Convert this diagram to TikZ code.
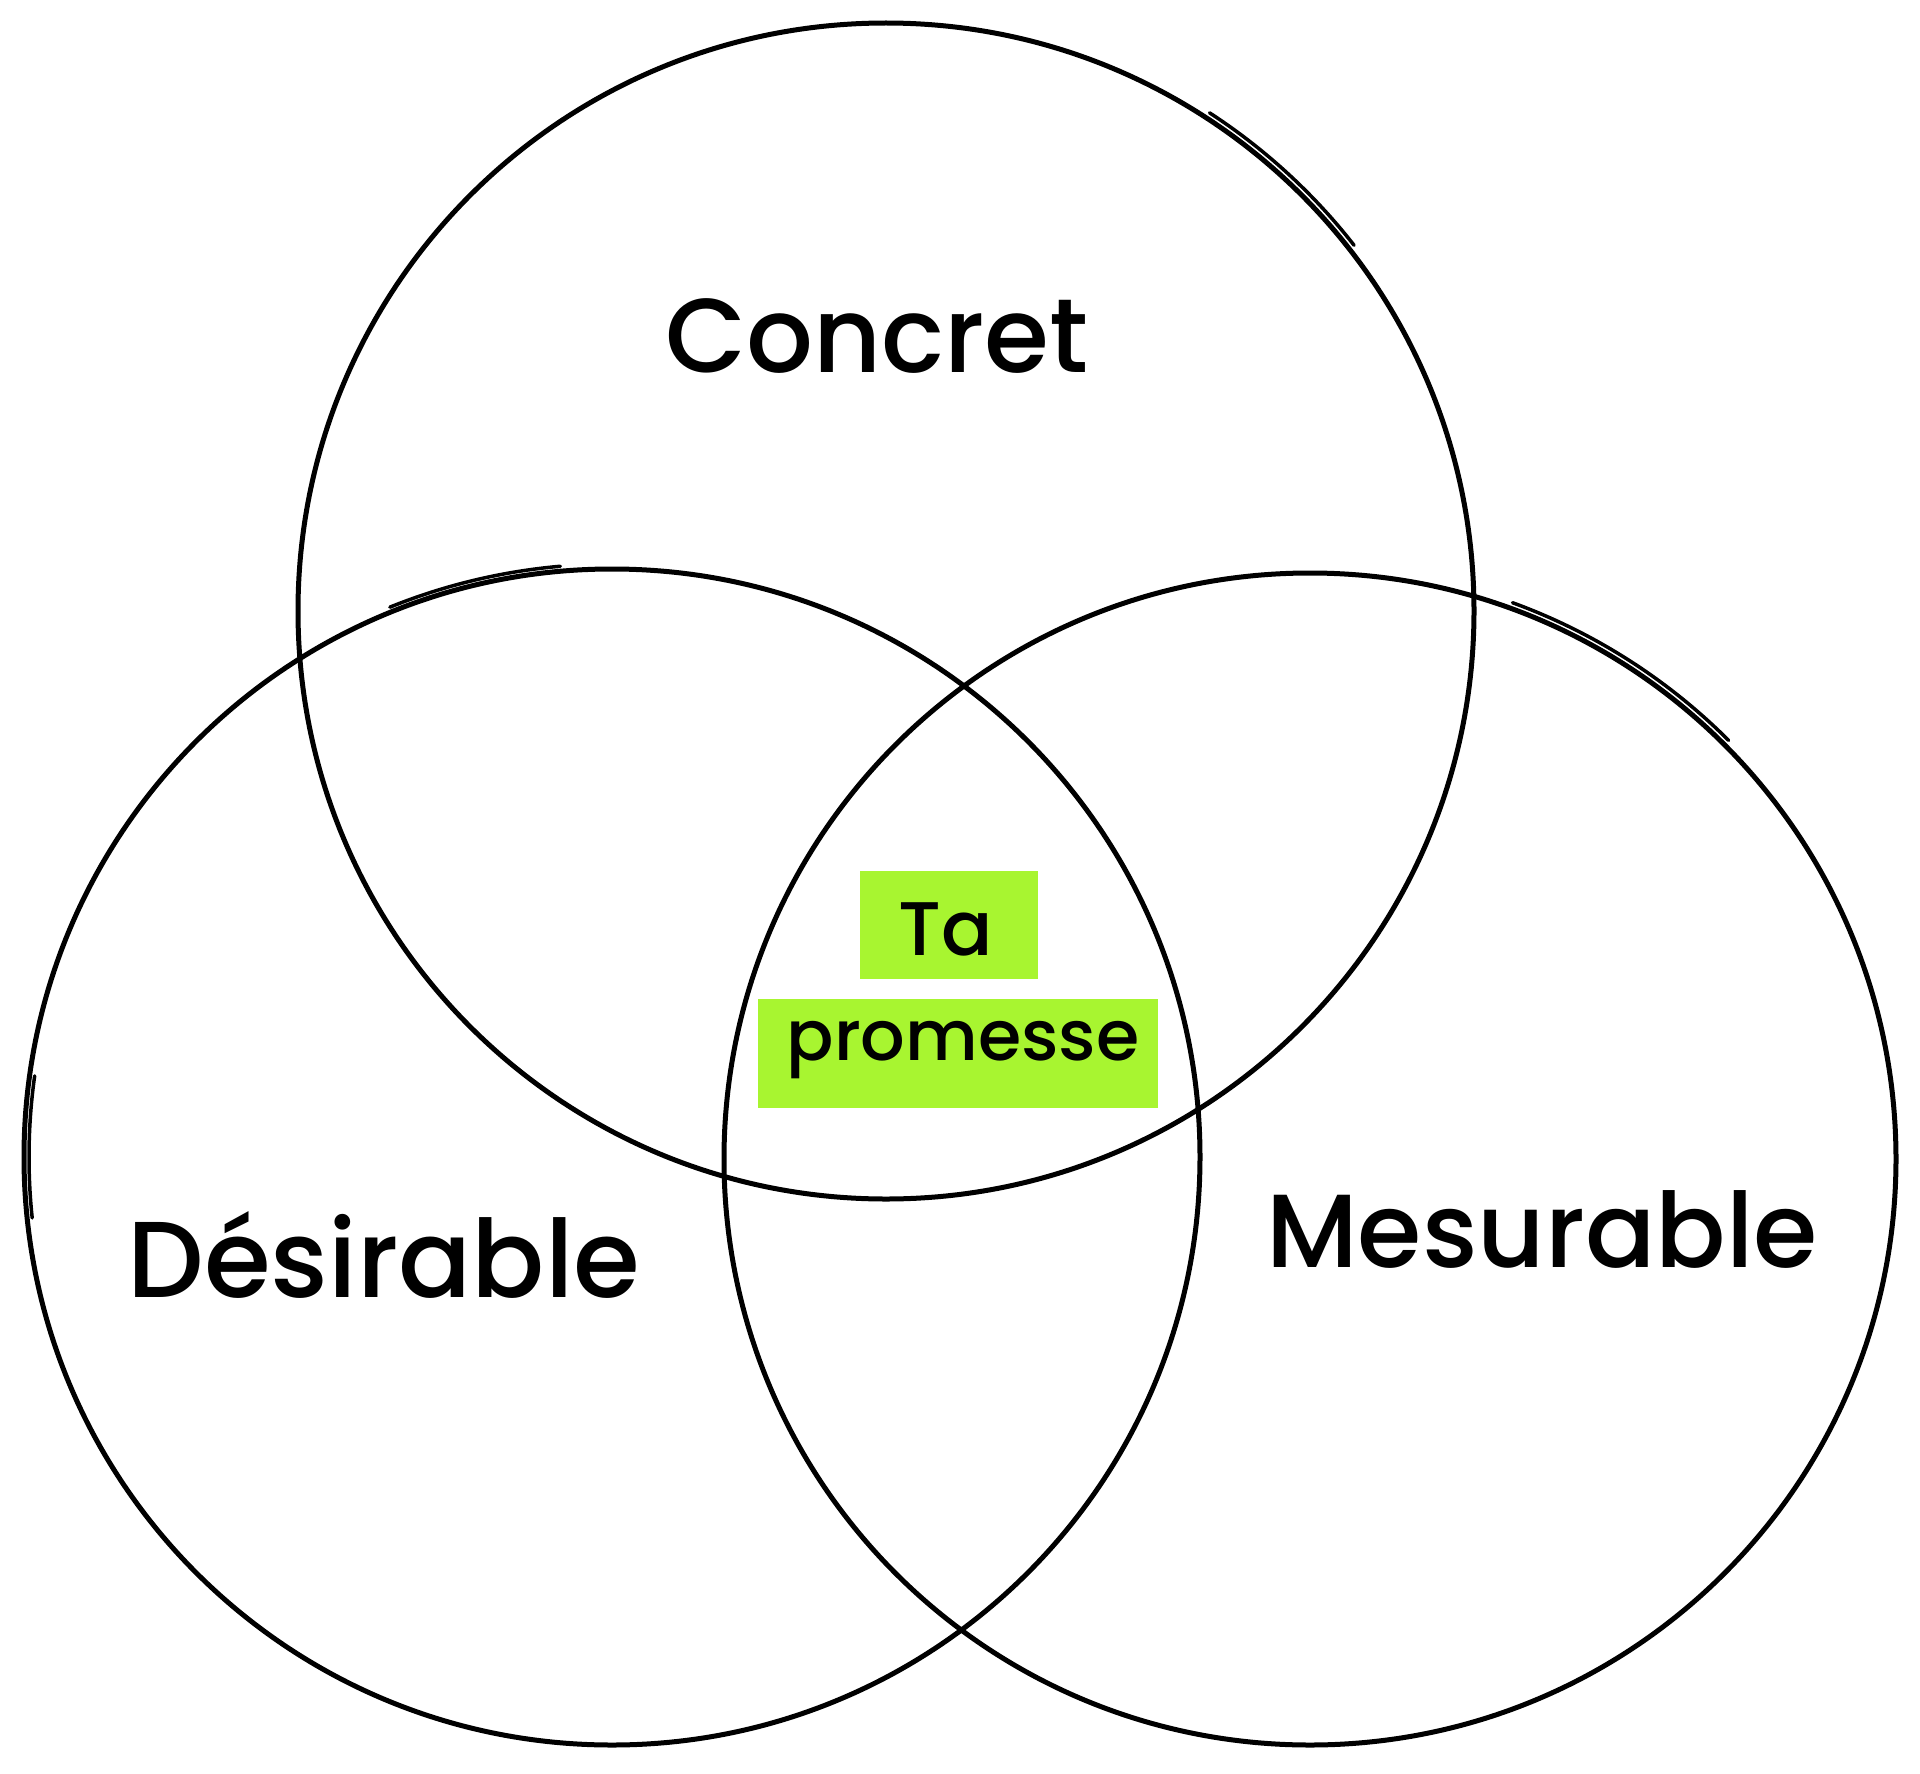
\documentclass[tikz,border=0pt]{standalone}
\usepackage{fontspec}
\setmainfont{Poppins Medium}
\definecolor{lime}{RGB}{168,245,48}
\begin{document}
\begin{tikzpicture}[x=1pt,y=-1pt,
  ring/.style={draw=black, circle, line width=5pt, inner sep=0pt, minimum size=#1},
  sketch/.style={draw=black, line width=3.5pt, line cap=round},
  hl/.style={fill=lime, draw=lime, line width=2pt, inner sep=0pt},
  biglabel/.style={anchor=base, inner sep=0pt, font=\fontsize{105pt}{110pt}\selectfont},
  smalllabel/.style={anchor=base, inner sep=0pt, font=\fontsize{70pt}{74pt}\selectfont}]
\useasboundingbox[fill=white] (0,0) rectangle (1920,1774);
% circles
\node[ring=1176pt] (top) at (886,611) {};
\node[ring=1176pt] (left) at (612,1157) {};
\node[ring=1172pt] (right) at (1310,1159) {};
% sketchy double strokes (angles in the flipped y system)
\draw[sketch] ([shift={(-57:594)}]top.center) arc[start angle=-57, end angle=-38, radius=594];
\draw[sketch] ([shift={(-112:593)}]left.center) arc[start angle=-112, end angle=-95, radius=593];
\draw[sketch] ([shift={(-70:592)}]right.center) arc[start angle=-70, end angle=-45, radius=592];
\draw[sketch] ([shift={(-172:583)}]left.center) arc[start angle=-172, end angle=-186, radius=583];
% highlight boxes
\node[hl, minimum width=176pt, minimum height=106pt] (tabox) at (949,925) {};
\node[hl, minimum width=398pt, minimum height=107pt] (prombox) at (958,1053) {};
% labels
\node[biglabel] (concret) at (877,372) {Concret};
\node[biglabel, font=\fontsize{108pt}{112pt}\selectfont] (desirable) at (384,1297) {Désirable};
\node[biglabel, font=\fontsize{104pt}{108pt}\selectfont] (mesurable) at (1542,1267) {Mesurable};
\node[smalllabel, font=\fontsize{76pt}{80pt}\selectfont] (ta) at (946,955) {Ta};
\node[smalllabel] (promesse) at (963,1060) {promesse};
\end{tikzpicture}
\end{document}
